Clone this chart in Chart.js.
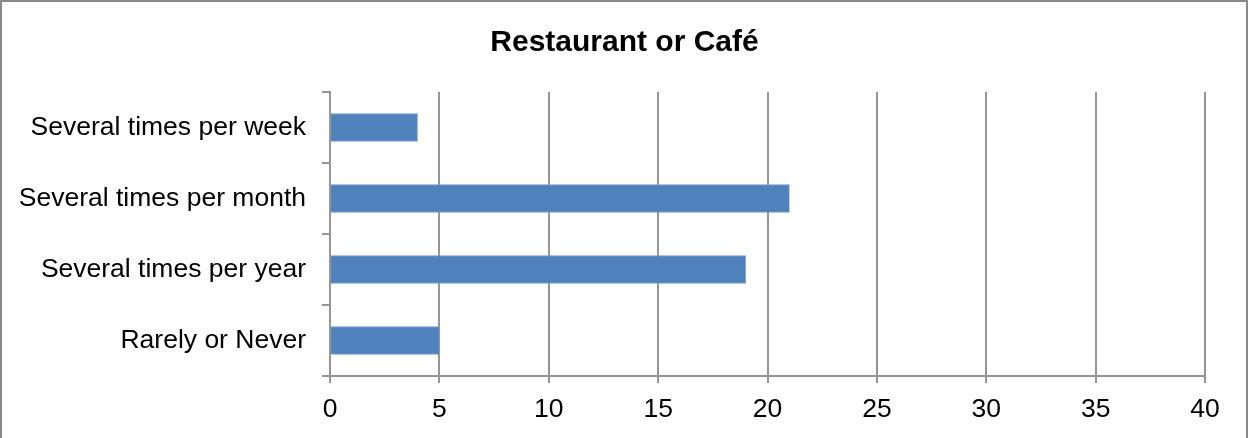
<!DOCTYPE html>
<html>
<head>
<meta charset="utf-8">
<script src="https://cdn.jsdelivr.net/npm/chart.js@4.4.1/dist/chart.umd.min.js"></script>
<style>
  html, body { margin: 0; padding: 0; background: #ffffff; }
  #wrap { width: 1249px; height: 438px; }
</style>
</head>
<body>
<div id="wrap"><canvas id="chart" width="1249" height="438"></canvas></div>
<script>
// Visit frequency for restaurants or cafés
const categories = [
  'Several times per week',
  'Several times per month',
  'Several times per year',
  'Rarely or Never'
];
const counts = [4, 21, 19, 5];
const axisMin = 0;
const axisMax = 40;
const axisStep = 5;

const FONT = '"Liberation Sans", Arial, sans-serif';
const GRID = '#969696';

// Thin frame around the whole figure; title centred on the full canvas width
const framePlugin = {
  id: 'frame',
  afterLayout(chart) {
    const t = chart.titleBlock;
    if (t) {
      t.left = 0;
      t.right = chart.width;
      t.width = chart.width;
    }
  },
  afterDraw(chart) {
    const ctx = chart.ctx;
    ctx.save();
    ctx.strokeStyle = '#8a8a8a';
    ctx.lineWidth = 2;
    ctx.strokeRect(1, 1, 1246, 440);
    ctx.restore();
  }
};

new Chart(document.getElementById('chart'), {
  type: 'bar',
  data: {
    labels: categories,
    datasets: [{
      data: counts,
      backgroundColor: '#4f81bd',
      borderColor: '#729bcb',
      borderWidth: 1,
      barThickness: 28
    }]
  },
  options: {
    indexAxis: 'y',
    responsive: false,
    animation: false,
    layout: { padding: { left: 0, right: 44, top: 0, bottom: 0 } },
    plugins: {
      legend: { display: false },
      tooltip: { enabled: false },
      title: {
        display: true,
        text: 'Restaurant or Café',
        color: '#000000',
        font: { family: FONT, size: 30, weight: 'bold', lineHeight: 1.2 },
        padding: { top: 25, bottom: 31 }
      }
    },
    scales: {
      x: {
        type: 'linear',
        min: axisMin,
        max: axisMax,
        ticks: {
          stepSize: axisStep,
          color: '#000000',
          font: { family: FONT, size: 26.5 },
          padding: 11
        },
        grid: {
          color: GRID,
          lineWidth: 2,
          drawTicks: true,
          tickLength: 7,
          tickColor: GRID
        },
        border: { display: true, color: GRID, width: 2 },
        afterFit(scale) { scale.height = 62; }
      },
      y: {
        type: 'category',
        ticks: {
          color: '#000000',
          font: { family: FONT, size: 26.5 },
          padding: 16
        },
        grid: {
          drawOnChartArea: false,
          drawTicks: true,
          tickLength: 8,
          tickColor: GRID,
          color: GRID,
          lineWidth: 2
        },
        border: { display: true, color: GRID, width: 2 },
        afterFit(scale) { scale.width = 330; }
      }
    }
  },
  plugins: [framePlugin]
});
</script>
</body>
</html>
